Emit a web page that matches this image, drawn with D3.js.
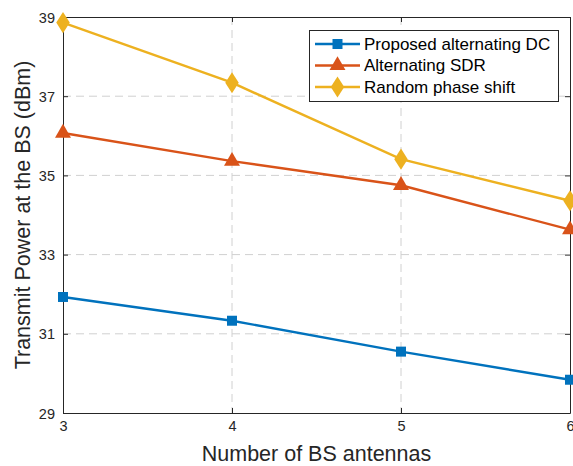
<!DOCTYPE html>
<html><head><meta charset="utf-8">
<script src="https://cdn.jsdelivr.net/npm/d3@7"></script>
<style>body{margin:0;background:#fff}svg{display:block;font-family:"Liberation Sans",Arial,sans-serif}</style>
</head><body><svg id="c" width="573" height="466"></svg>
<script>
const xValues = [3, 4, 5, 6];
const seriesNames = ["Proposed alternating DC", "Alternating SDR", "Random phase shift"];
const proposedDC = [31.93, 31.33, 30.55, 29.84];
const altSDR = [36.07, 35.36, 34.75, 33.63];
const randomPhase = [38.86, 37.34, 35.41, 34.36];
const yTicks = [29, 31, 33, 35, 37, 39];
const xTicks = [3, 4, 5, 6];
const colors = ["#0072BD", "#D95319", "#EDB120"];
const markers = ["square", "triangle", "diamond"];

const svg = d3.select("#c");
const L = 63, R = 570, T = 17, B = 413;
const x = d3.scaleLinear().domain([3, 6]).range([L, R]);
const y = d3.scaleLinear().domain([29, 39]).range([B, T]);

// grid
svg.append("g").selectAll("line").data(yTicks.slice(1, -1)).join("line")
  .attr("x1", L).attr("x2", R).attr("y1", d => y(d)).attr("y2", d => y(d))
  .attr("stroke", "#d0d0d0").attr("stroke-width", 1).attr("stroke-dasharray", "8,5");
svg.append("g").selectAll("line").data(xTicks.slice(1, -1)).join("line")
  .attr("y1", T).attr("y2", B).attr("x1", d => x(d)).attr("x2", d => x(d))
  .attr("stroke", "#d0d0d0").attr("stroke-width", 1).attr("stroke-dasharray", "8,5");

// axes
const ax = "#262626";
const xAxis = svg.append("g").attr("transform", `translate(0,${B})`)
  .call(d3.axisBottom(x).tickValues(xTicks).tickFormat(d3.format("d")).tickSizeInner(-5).tickSizeOuter(0).tickPadding(11));
const yAxis = svg.append("g").attr("transform", `translate(${L},0)`)
  .call(d3.axisLeft(y).tickValues(yTicks).tickFormat(d3.format("d")).tickSizeInner(-5).tickSizeOuter(0).tickPadding(8));
const xTop = svg.append("g").attr("transform", `translate(0,${T})`)
  .call(d3.axisTop(x).tickValues(xTicks).tickFormat("").tickSizeInner(-5).tickSizeOuter(0));
const yRight = svg.append("g").attr("transform", `translate(${R},0)`)
  .call(d3.axisRight(y).tickValues(yTicks).tickFormat("").tickSizeInner(-5).tickSizeOuter(0));
[xAxis, yAxis, xTop, yRight].forEach(g => {
  g.select(".domain").attr("stroke", ax).attr("stroke-width", 1);
  g.selectAll(".tick line").attr("stroke", ax);
  g.selectAll("text").attr("fill", ax).attr("font-size", 14.5).attr("font-family", "Liberation Sans, Arial, sans-serif");
});
xAxis.selectAll("text").attr("dy", "0.5em");
yAxis.selectAll("text").attr("dy", "0.35em");

const symbolFor = m => m === "square" ? d3.symbol(d3.symbolSquare, 100)
  : m === "triangle" ? d3.symbol(d3.symbolTriangle, 110)
  : d3.symbol(d3.symbolDiamond, 130);
const extra = m => m === "diamond" ? " scale(1.1,1)" : "";

const data = [proposedDC, altSDR, randomPhase];
const line = d3.line().x((d, i) => x(xValues[i])).y(d => y(d));
data.forEach((vals, k) => {
  svg.append("path").datum(vals).attr("d", line).attr("fill", "none")
    .attr("stroke", colors[k]).attr("stroke-width", 2.4);
  svg.append("g").selectAll("path").data(vals).join("path")
    .attr("transform", (d, i) => `translate(${x(xValues[i])},${y(d)})` + extra(markers[k]))
    .attr("d", symbolFor(markers[k])).attr("fill", colors[k]);
});

// labels
svg.append("text").attr("x", (L + R) / 2).attr("y", 461).attr("text-anchor", "middle")
  .attr("font-size", 21.5).attr("fill", ax).text("Number of BS antennas");
svg.append("text").attr("transform", `translate(30,${(T + B) / 2}) rotate(-90)`).attr("text-anchor", "middle")
  .attr("font-size", 21.5).attr("fill", ax).text("Transmit Power at the BS (dBm)");

// legend
const lg = svg.append("g");
lg.append("rect").attr("x", 309.5).attr("y", 30.5).attr("width", 249).attr("height", 71)
  .attr("fill", "#fff").attr("stroke", ax).attr("stroke-width", 1);
seriesNames.forEach((name, k) => {
  const cy = 44 + k * 21.5;
  lg.append("line").attr("x1", 315).attr("x2", 360).attr("y1", cy).attr("y2", cy)
    .attr("stroke", colors[k]).attr("stroke-width", 2.4);
  lg.append("path").attr("transform", `translate(337.5,${cy})` + extra(markers[k]))
    .attr("d", symbolFor(markers[k])).attr("fill", colors[k]);
  lg.append("text").attr("x", 364).attr("y", cy).attr("dy", "0.35em")
    .attr("font-size", 17).attr("fill", "#000").text(name);
});
</script></body></html>
